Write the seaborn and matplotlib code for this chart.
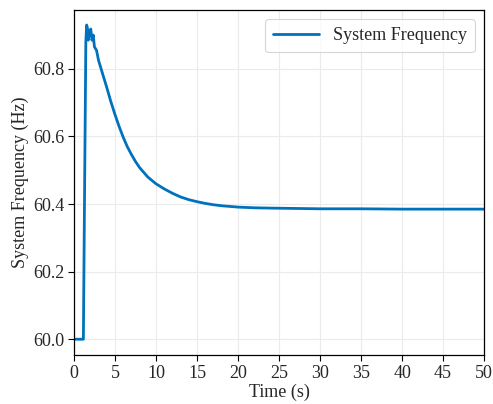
import matplotlib
matplotlib.use("Agg")
import matplotlib.pyplot as plt
import seaborn as sns
import pandas as pd

# time (s) and system frequency (Hz)
TIME = [0.0, 0.5, 1.0, 1.15, 1.3, 1.45, 1.55, 1.65, 1.75, 1.9, 2.05, 2.2,
        2.35, 2.5, 2.75, 3.0, 3.5, 4.0, 4.5, 5.0, 5.5, 6.0, 6.5, 7.0, 7.5,
        8.0, 9.0, 10.0, 11.0, 12.0, 13.0, 14.0, 15.0, 16.0, 17.0, 18.0,
        20.0, 22.0, 24.0, 27.0, 30.0, 35.0, 40.0, 45.0, 50.0]
FREQ = [60.0, 60.0, 60.0, 60.0, 60.45, 60.88, 60.93, 60.92, 60.885, 60.91,
        60.918, 60.885, 60.9, 60.865, 60.855, 60.825, 60.785, 60.745, 60.703,
        60.665, 60.63, 60.598, 60.57, 60.547, 60.526, 60.508, 60.48, 60.46,
        60.445, 60.432, 60.421, 60.413, 60.407, 60.402, 60.398, 60.395,
        60.391, 60.389, 60.388, 60.387, 60.386, 60.386, 60.385, 60.385, 60.385]

df = pd.DataFrame({"t": TIME, "f": FREQ, "series": "System Frequency"})

sns.set_theme(style="whitegrid")
plt.rcParams["font.family"] = ["Liberation Serif", "DejaVu Serif"]

fig = plt.figure(figsize=(4.93, 4.04), dpi=100)
ax = fig.add_axes([0.150, 0.121, 0.832, 0.854])

sns.lineplot(data=df, x="t", y="f", hue="series", palette=["#0072BD"],
             linewidth=2, ax=ax, estimator=None, sort=False)

ax.set_xlim(0, 50)
ax.set_xticks(range(0, 51, 5))
ax.set_yticks([60.0, 60.2, 60.4, 60.6, 60.8])
ax.set_yticklabels(["60.0", "60.2", "60.4", "60.6", "60.8"])
ax.set_ylim(59.953, 60.974)
ax.set_xlabel("Time (s)", fontsize=13, labelpad=1)
ax.set_ylabel("System Frequency (Hz)", fontsize=13, labelpad=3)
ax.tick_params(axis="both", labelsize=13, direction="out", length=4,
               width=0.8, color="black", left=True, bottom=True, pad=3)
ax.set_facecolor("white")
ax.grid(True, color="#ebebeb", linewidth=0.8)
for s in ax.spines.values():
    s.set_color("black")
    s.set_linewidth(0.9)

leg = ax.legend(loc="upper right", fontsize=13, frameon=True, fancybox=True,
                handlelength=2.5, borderpad=0.45)
leg.get_frame().set_edgecolor("#cccccc")
leg.get_frame().set_linewidth(0.8)

fig.savefig("out.png", dpi=100)
